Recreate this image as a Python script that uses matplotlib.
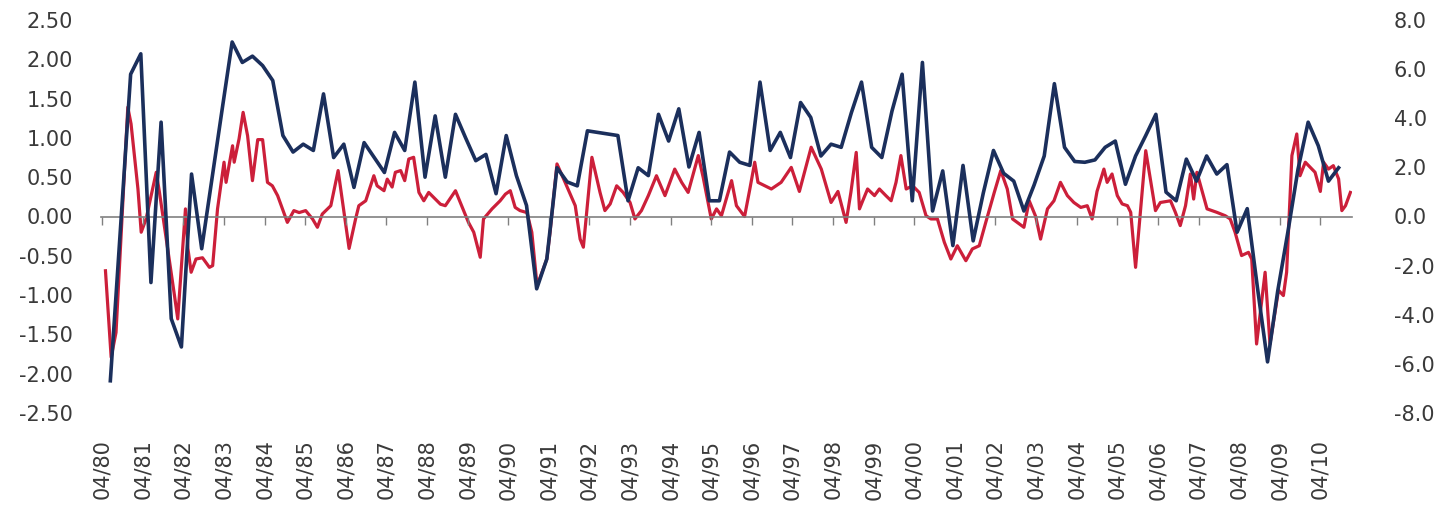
import numpy as np
import matplotlib
matplotlib.use("Agg")
import matplotlib.pyplot as plt

# ---- data -------------------------------------------------------------
# Quarterly series (left axis), first quarter mid-1980
blue_start = 1980.45
blue_values = [
    -2.09, -0.15, 1.81, 2.07, -0.84, 1.20, -1.30, -1.66, 0.54, -0.41,
    0.47, 1.35, 2.22, 1.96, 2.04, 1.92, 1.73, 1.03, 0.82, 0.92,
    0.84, 1.56, 0.75, 0.92, 0.37, 0.94, 0.75, 0.56, 1.07, 0.84,
    1.71, 0.50, 1.28, 0.50, 1.30, 1.00, 0.71, 0.79, 0.29, 1.03,
    0.52, 0.14, -0.92, -0.54, 0.62, 0.44, 0.39, 1.09, 1.07, 1.05,
    1.03, 0.20, 0.62, 0.52, 1.30, 0.96, 1.37, 0.63, 1.07, 0.20,
    0.20, 0.82, 0.69, 0.65, 1.71, 0.84, 1.07, 0.75, 1.45, 1.26,
    0.77, 0.92, 0.88, 1.32, 1.71, 0.88, 0.75, 1.34, 1.81, 0.20,
    1.96, 0.07, 0.58, -0.37, 0.65, -0.31, 0.30, 0.84, 0.55, 0.45,
    0.07, 0.40, 0.77, 1.69, 0.88, 0.70, 0.69, 0.72, 0.88, 0.96,
    0.41, 0.77, 1.03, 1.30, 0.31, 0.20, 0.73, 0.45, 0.77, 0.54,
    0.66, -0.20, 0.10, -0.90, -1.85, -0.95, -0.20, 0.60, 1.20, 0.90,
    0.45, 0.62,
]

# Monthly series (right axis), read at its visible turning points
red_dates = [
    1980.33, 1980.47, 1980.59, 1980.88, 1980.96, 1981.13, 1981.21, 1981.33, 1981.58, 1981.66,
    1982.03, 1982.11, 1982.30, 1982.36, 1982.44, 1982.56, 1982.72, 1982.89, 1982.97, 1983.09,
    1983.25, 1983.30, 1983.46, 1983.50, 1983.62, 1983.72, 1983.83, 1983.95, 1984.08, 1984.20,
    1984.32, 1984.44, 1984.57, 1984.81, 1984.97, 1985.10, 1985.26, 1985.43, 1985.55, 1985.67,
    1985.88, 1986.06, 1986.33, 1986.49, 1986.57, 1986.74, 1986.94, 1987.02, 1987.19, 1987.27,
    1987.39, 1987.47, 1987.60, 1987.70, 1987.80, 1987.92, 1988.05, 1988.17, 1988.29, 1988.58,
    1988.70, 1988.95, 1989.11, 1989.27, 1989.40, 1989.56, 1989.64, 1989.85, 1990.05, 1990.18,
    1990.30, 1990.42, 1990.54, 1990.71, 1990.83, 1990.96, 1991.08, 1991.20, 1991.28, 1991.45,
    1991.65, 1991.90, 1992.02, 1992.10, 1992.31, 1992.51, 1992.63, 1992.76, 1992.92, 1993.08,
    1993.25, 1993.37, 1993.53, 1993.70, 1993.90, 1994.11, 1994.35, 1994.52, 1994.68, 1994.93,
    1995.05, 1995.25, 1995.38, 1995.50, 1995.75, 1995.87, 1996.07, 1996.20, 1996.32, 1996.40,
    1996.73, 1996.97, 1997.22, 1997.42, 1997.71, 1997.96, 1998.20, 1998.37, 1998.57, 1998.69,
    1998.82, 1998.90, 1998.98, 1999.10, 1999.27, 1999.39, 1999.55, 1999.68, 1999.80, 1999.92,
    2000.05, 2000.21, 2000.37, 2000.54, 2000.66, 2000.82, 2000.99, 2001.15, 2001.31, 2001.52,
    2001.68, 2001.85, 2002.01, 2002.22, 2002.38, 2002.54, 2002.67, 2002.95, 2003.08, 2003.24,
    2003.36, 2003.53, 2003.69, 2003.85, 2004.02, 2004.18, 2004.35, 2004.51, 2004.63, 2004.75,
    2004.92, 2005.00, 2005.12, 2005.25, 2005.37, 2005.50, 2005.58, 2005.70, 2005.95, 2006.19,
    2006.31, 2006.56, 2006.68, 2006.80, 2006.93, 2007.05, 2007.13, 2007.21, 2007.46, 2007.70,
    2007.91, 2008.03, 2008.15, 2008.31, 2008.48, 2008.56, 2008.68, 2008.89, 2009.01, 2009.22,
    2009.34, 2009.42, 2009.55, 2009.67, 2009.75, 2009.88, 2010.12, 2010.25, 2010.33, 2010.45,
    2010.57, 2010.70, 2010.78, 2010.87, 2010.99,
]
red_values = [
    -2.21, -5.73, -4.72, 4.45, 3.77, 1.12, -0.64, -0.10, 1.80, 0.98,
    -3.22, -4.17, 0.31, -1.30, -2.27, -1.73, -1.68, -2.07, -2.00, 0.31,
    2.21, 1.39, 2.88, 2.21, 3.16, 4.24, 3.29, 1.46, 3.13, 3.13,
    1.39, 1.25, 0.85, -0.24, 0.24, 0.16, 0.24, -0.10, -0.44, 0.10,
    0.44, 1.87, -1.30, -0.10, 0.44, 0.64, 1.66, 1.25, 1.05, 1.52,
    1.20, 1.80, 1.87, 1.46, 2.34, 2.41, 0.98, 0.64, 0.98, 0.50,
    0.44, 1.05, 0.40, -0.24, -0.64, -1.66, -0.10, 0.31, 0.64, 0.91,
    1.05, 0.37, 0.24, 0.16, -0.64, -2.82, -2.27, -1.73, -0.64, 2.14,
    1.39, 0.44, -0.92, -1.25, 2.41, 0.98, 0.24, 0.51, 1.25, 0.98,
    0.57, -0.10, 0.24, 0.85, 1.66, 0.85, 1.93, 1.39, 0.98, 2.48,
    1.60, -0.10, 0.31, 0.03, 1.46, 0.44, 0.00, 1.12, 2.21, 1.39,
    1.12, 1.39, 2.00, 1.02, 2.82, 1.93, 0.57, 1.02, -0.24, 1.00,
    2.61, 0.31, 0.64, 1.12, 0.85, 1.12, 0.85, 0.64, 1.39, 2.48,
    1.12, 1.25, 0.98, 0.03, -0.10, -0.10, -1.05, -1.73, -1.19, -1.80,
    -1.32, -1.19, -0.24, 0.98, 1.87, 1.12, -0.10, -0.44, 0.64, 0.00,
    -0.92, 0.31, 0.64, 1.39, 0.85, 0.57, 0.37, 0.44, -0.10, 1.02,
    1.93, 1.39, 1.73, 0.85, 0.51, 0.44, 0.17, -2.07, 2.68, 0.24,
    0.57, 0.64, 0.17, -0.37, 0.44, 1.73, 0.71, 1.80, 0.31, 0.17,
    0.03, -0.10, -0.64, -1.59, -1.46, -1.73, -5.19, -2.27, -5.19, -3.00,
    -3.22, -2.27, 2.48, 3.36, 1.66, 2.21, 1.80, 1.02, 2.21, 1.93,
    2.07, 1.53, 0.24, 0.44, 0.98,
]

tick_years = list(range(1980, 2011))
tick_labels = [f"04/{y % 100:02d}" for y in tick_years]
left_ticks = [2.5, 2.0, 1.5, 1.0, 0.5, 0.0, -0.5, -1.0, -1.5, -2.0, -2.5]
right_ticks = [8, 6, 4, 2, 0, -2, -4, -6, -8]

# ---- drawing ----------------------------------------------------------
W, H = 1435, 517
fig = plt.figure(figsize=(W / 100, H / 100), dpi=100)
ax = fig.add_axes([101 / W, 1 - 413 / H, (1352 - 101) / W, 393 / H])
ax2 = ax.twinx()

blue_dates = blue_start + 0.25 * np.arange(len(blue_values))
navy = "#1b2f5c"
red = "#cc1f3a"
txt = "#3a3a3a"
fs = 15

ax2.plot(red_dates, red_values, color=red, lw=2.3, solid_joinstyle="round", zorder=2)
ax.plot(blue_dates, blue_values, color=navy, lw=2.6, solid_joinstyle="round", zorder=3)
ax.set_zorder(ax2.get_zorder() + 1)
ax.patch.set_visible(False)

ax.set_xlim(1980.22, 2011.03)
ax.set_ylim(-2.5, 2.5)
ax2.set_ylim(-8, 8)

for a in (ax, ax2):
    for s in a.spines.values():
        s.set_visible(False)

# zero line with downward year ticks
ax.spines["bottom"].set_visible(True)
ax.spines["bottom"].set_position(("data", 0))
ax.spines["bottom"].set_color("#808080")
ax.spines["bottom"].set_linewidth(1.2)
ax.spines["bottom"].set_zorder(1)
ticks_x = [y + 0.25 for y in tick_years]
ax.set_xticks(ticks_x)
ax.tick_params(axis="x", direction="out", length=6, width=1.0, color="#808080",
               labelbottom=False)

sec = ax.secondary_xaxis(0.0)
sec.set_xticks(ticks_x)
sec.set_xticklabels(tick_labels, rotation=90, fontsize=fs, color=txt)
sec.tick_params(axis="x", length=0, pad=19)
for s in sec.spines.values():
    s.set_visible(False)

ax.set_yticks(left_ticks)
ax.set_yticklabels([f"{v:.2f}" for v in left_ticks], fontsize=fs, color=txt)
ax.tick_params(axis="y", length=0, pad=20)

ax2.set_yticks(right_ticks)
ax2.set_yticklabels([f"{v:.1f}" for v in right_ticks], fontsize=fs, color=txt)
ax2.tick_params(axis="y", length=0, pad=30)

fig.savefig("out.png", dpi=100, facecolor="white")
